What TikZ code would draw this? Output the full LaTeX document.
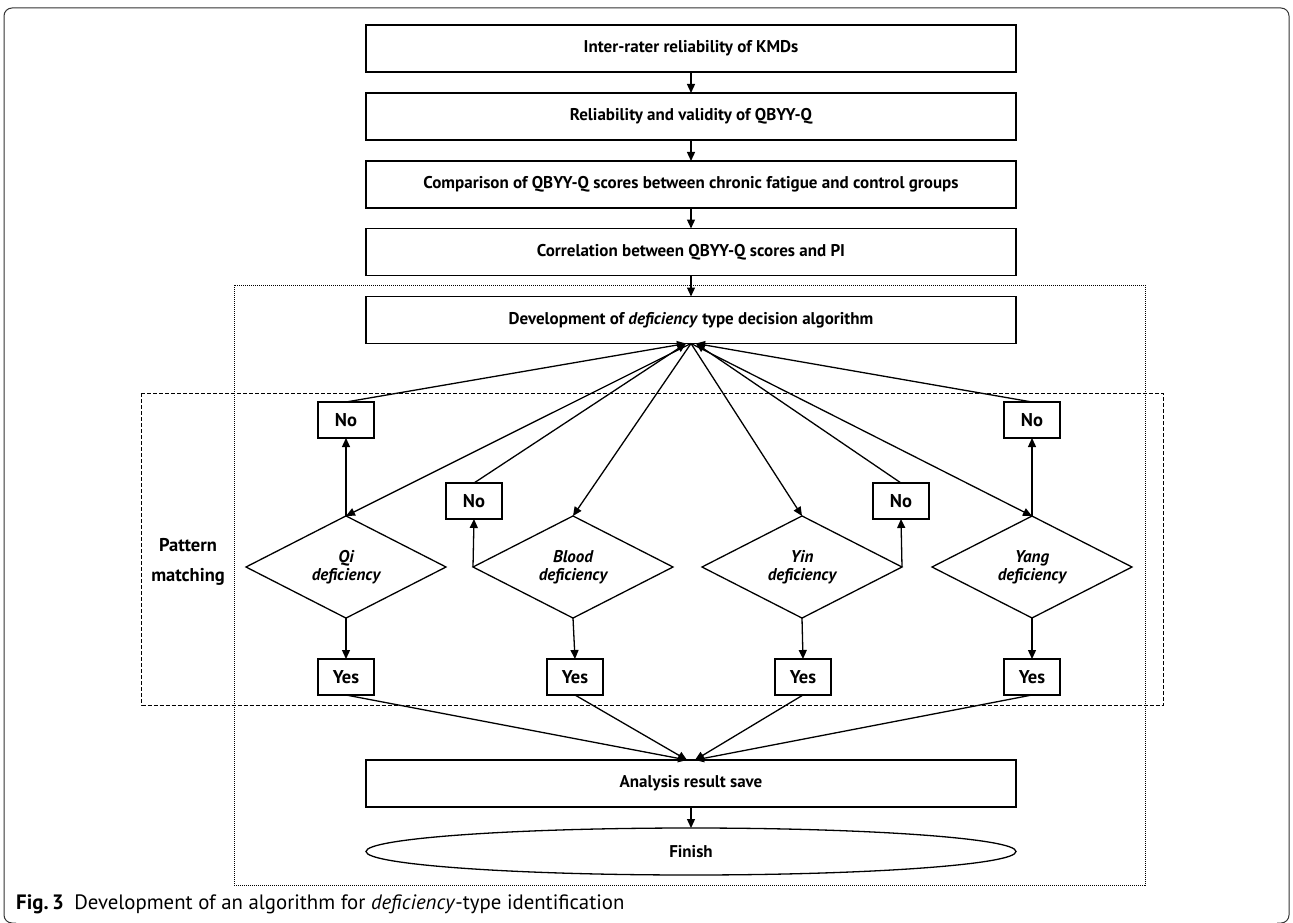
\documentclass[tikz,border=0pt]{standalone}
\usepackage{fontspec}
\usetikzlibrary{shapes.geometric,arrows.meta}
\newfontfamily\diafont{PT Sans}
\newfontfamily\capfont{PT Sans}
\begin{document}
\begin{tikzpicture}[x=1pt,y=-1pt,
  lw/.style={line width=1.3pt},
  bigbox/.style={draw,lw,minimum width=650pt,minimum height=47pt,inner sep=0pt,outer sep=0pt,
    font=\diafont\bfseries\fontsize{17}{20}\selectfont},
  small/.style={draw,lw,minimum width=56pt,minimum height=36pt,inner sep=0pt,outer sep=0pt,
    font=\diafont\bfseries\fontsize{18.5}{20}\selectfont},
  dia/.style={draw,lw,diamond,minimum width=200pt,minimum height=93pt,inner sep=0pt,outer sep=0pt,
    align=center,font=\diafont\bfseries\itshape\fontsize{17}{18}\selectfont},
  arr/.style={lw,-{Triangle[length=9pt,width=8pt]}},
  ln/.style={lw}
]
\useasboundingbox (0,0) rectangle (1293,923);
% outer frame
\draw[line width=1pt,black!80,rounded corners=8pt] (16,923) -- (4,923) -- (4,8) -- (1289,8) -- (1289,923) -- (1277,923);
% frames
\draw[line width=1pt,dash pattern=on 1pt off 1pt] (234,285) rectangle (1145,885);
\draw[line width=1pt,dash pattern=on 4pt off 2pt] (141.5,393) rectangle (1163,705);

% main boxes
\node[bigbox] (b1) at (691,48.5) {Inter-rater reliability of KMDs};
\node[bigbox] (b2) at (691,116.5) {Reliability and validity of QBYY-Q};
\node[bigbox] (b3) at (691,184.5) {Comparison of QBYY-Q scores between chronic fatigue and control groups};
\node[bigbox] (b4) at (691,252) {Correlation between QBYY-Q scores and PI};
\node[bigbox] (b5) at (691,320) {Development of \textit{deficiency} type decision algorithm};
\node[bigbox] (ana) at (691,783.5) {Analysis result save};
\node[bigbox,ellipse] (fin) at (691,851.5) {Finish};

\draw[arr] (b1) -- (b2);
\draw[arr] (b2) -- (b3);
\draw[arr] (b3) -- (b4);
\draw[arr] (b4) -- (b5);
\draw[arr] (ana) -- (fin);

% diamonds
\node[dia] (qd) at (346,567) {Qi\\deficiency};
\node[dia] (bd) at (573,567) {Blood\\deficiency};
\node[dia] (id) at (802,567) {Yin\\deficiency};
\node[dia] (gd) at (1032,567) {Yang\\deficiency};

% No boxes
\node[small] (qno) at (346,420) {No};
\node[small] (bno) at (474,501) {No};
\node[small] (ino) at (901,501) {No};
\node[small] (gno) at (1032,420) {No};
% Yes boxes
\node[small] (qyes) at (346,677) {Yes};
\node[small] (byes) at (575,677) {Yes};
\node[small] (iyes) at (803,677) {Yes};
\node[small] (gyes) at (1032,677) {Yes};

\node[align=center,font=\diafont\bfseries\fontsize{18.5}{30}\selectfont] (pm) at (188,562) {Pattern\\matching};

% convergence points
\coordinate (tL) at ([xshift=-5pt]b5.south);
\coordinate (tR) at ([xshift=5pt]b5.south);
\coordinate (tC) at (b5.south);
\coordinate (aL) at ([xshift=-4pt]ana.north);
\coordinate (aR) at ([xshift=4pt]ana.north);

% decision arrows
\draw[arr] (qd.north) -- (qno.south);
\draw[arr] (bd.west) -- (bno.south);
\draw[arr] (id.east) -- (ino.south);
\draw[arr] (gd.north) -- (gno.south);

\draw[arr] (qno.north) -- (tL);
\draw[arr] (bno.north) -- (tL);
\draw[arr] (ino.north) -- (tR);
\draw[arr] (gno.north) -- (tR);

\draw[arr] (tC) -- (qd.north);
\draw[arr] (tC) -- (bd.north);
\draw[arr] (tC) -- (id.north);
\draw[arr] (tC) -- (gd.north);

\draw[arr] (qd.south) -- (qyes.north);
\draw[arr] (bd.south) -- (byes.north);
\draw[arr] (id.south) -- (iyes.north);
\draw[arr] (gd.south) -- (gyes.north);

\draw[arr] (qyes.south) -- (aL);
\draw[arr] (byes.south) -- (aL);
\draw[arr] (iyes.south) -- (aR);
\draw[arr] (gyes.south) -- (aR);

% caption
\node[anchor=west,inner sep=0pt,font=\capfont\fontsize{20.8}{22}\selectfont] (cap) at (16,904)
  {\textbf{Fig.\,3}\hspace{0.5em}Development of an algorithm for \textit{deficiency}-type identification};
\end{tikzpicture}
\end{document}
